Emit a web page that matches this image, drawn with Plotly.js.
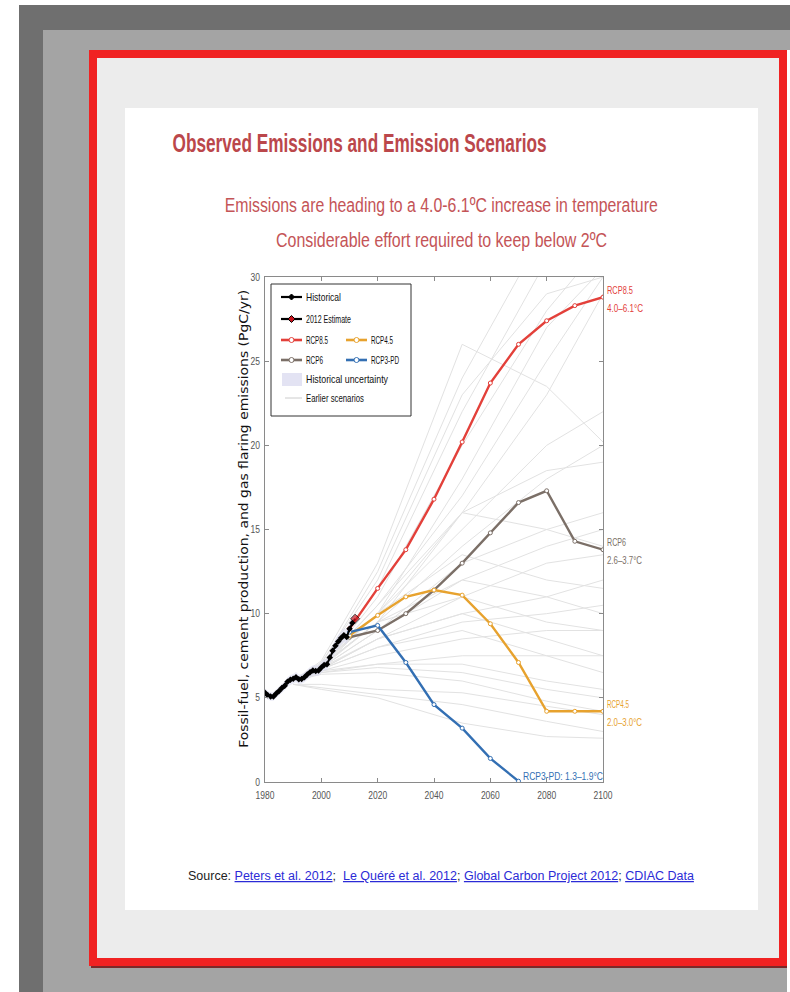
<!DOCTYPE html>
<html>
<head>
<meta charset="utf-8">
<script src="https://cdn.plot.ly/plotly-3.0.1.min.js"></script>
<style>
  html, body { margin: 0; padding: 0; background: #ffffff; }
  #chart { width: 790px; height: 992px; }
</style>
</head>
<body>
<div id="chart"></div>
<script>
// ---------------- DATA ----------------
const HIST_YEARS = [1980,1981,1982,1983,1984,1985,1986,1987,1988,1989,1990,1991,1992,1993,1994,1995,1996,1997,1998,1999,2000,2001,2002,2003,2004,2005,2006,2007,2008,2009,2010,2011];
const HIST_VALUES = [5.30,5.15,5.08,5.08,5.25,5.40,5.58,5.72,5.95,6.07,6.13,6.23,6.10,6.12,6.22,6.38,6.52,6.62,6.60,6.62,6.80,6.95,7.00,7.40,7.80,8.10,8.35,8.55,8.72,8.62,9.10,9.45];
const HIST_UNC = [0.25,0.25,0.25,0.25,0.26,0.26,0.27,0.27,0.28,0.29,0.29,0.30,0.29,0.29,0.30,0.30,0.31,0.31,0.31,0.31,0.32,0.33,0.33,0.35,0.37,0.38,0.40,0.41,0.42,0.42,0.44,0.46];

const EST_YEARS = [2011, 2012];
const EST_VALUES = [9.45, 9.70];

const RCP_YEARS = [2010,2020,2030,2040,2050,2060,2070,2080,2090,2100];
const RCP85 = [9.1, 11.5, 13.8, 16.8, 20.2, 23.7, 26.0, 27.4, 28.3, 28.8];
const RCP6  = [8.6,  9.0, 10.0, 11.4, 13.0, 14.8, 16.6, 17.3, 14.3, 13.8];
const RCP45 = [8.7,  9.9, 11.0, 11.4, 11.1,  9.4,  7.1,  4.2,  4.2,  4.2];
const RCP3PD_YEARS = [2010,2020,2030,2040,2050,2060,2070];
const RCP3PD = [8.9, 9.3, 7.1, 4.6, 3.2, 1.4, 0.05];

const ES_YEARS = [1990, 2000, 2020, 2050, 2080, 2100];
const ES_01 = [6.0, 6.9, 11.5, 22.0, 31.0, 36.0];
const ES_02 = [6.0, 7.0, 12.5, 24.0, 33.0, 37.0];
const ES_03 = [6.0, 6.8, 11.0, 20.0, 28.0, 32.0];
const ES_04 = [6.0, 7.2, 13.0, 26.0, 23.5, 20.2];
const ES_05 = [6.0, 6.9, 10.5, 17.0, 25.0, 30.0];
const ES_06 = [6.0, 7.0, 10.0, 16.0, 23.0, 29.0];
const ES_07 = [6.0, 6.8, 10.0, 18.0, 27.0, 30.5];
const ES_08 = [6.0, 7.1, 12.0, 23.0, 29.0, 30.0];
const ES_09 = [6.0, 6.9, 10.0, 15.0, 20.0, 22.0];
const ES_10 = [6.0, 6.8,  9.5, 14.0, 18.0, 20.0];
const ES_11 = [6.0, 6.9,  9.5, 16.0, 18.5, 19.0];
const ES_12 = [6.0, 7.0, 10.5, 16.0, 15.0, 14.0];
const ES_13 = [6.0, 6.8,  9.0, 13.0, 15.0, 16.0];
const ES_14 = [6.0, 6.9,  9.5, 12.0, 14.0, 15.0];
const ES_15 = [6.0, 6.7,  8.5, 11.0, 13.0, 13.5];
const ES_16 = [6.0, 7.0, 10.0, 13.5, 12.0, 11.5];
const ES_17 = [6.0, 6.8,  9.0, 12.0, 11.0, 10.0];
const ES_18 = [6.0, 6.7,  8.5, 10.0, 11.0, 12.0];
const ES_19 = [6.0, 6.9,  9.5, 11.0,  9.5,  9.0];
const ES_20 = [6.0, 6.7,  8.0,  9.5, 10.0, 10.5];
const ES_21 = [6.0, 6.8,  8.5, 10.0,  8.5,  7.5];
const ES_22 = [6.0, 6.6,  7.5,  8.5,  9.0,  9.0];
const ES_23 = [6.0, 6.7,  8.0,  9.0,  7.5,  6.5];
const ES_24 = [6.0, 6.6,  7.0,  7.5,  7.5,  7.5];
const ES_25 = [6.0, 6.5,  7.0,  7.0,  6.0,  5.5];
const ES_26 = [6.0, 6.5,  6.8,  6.5,  5.5,  5.0];
const ES_27 = [5.8, 5.6,  5.2,  4.6,  3.6,  3.0];
const ES_28 = [5.8, 5.8,  5.5,  5.3,  4.5,  4.0];
const ES_29 = [5.8, 5.5,  5.0,  3.5,  2.7,  2.6];
const ES_30 = [6.0, 6.4,  6.5,  6.0,  4.8,  4.2];
const EARLIER = [ES_01,ES_02,ES_03,ES_04,ES_05,ES_06,ES_07,ES_08,ES_09,ES_10,ES_11,ES_12,ES_13,ES_14,ES_15,ES_16,ES_17,ES_18,ES_19,ES_20,ES_21,ES_22,ES_23,ES_24,ES_25,ES_26,ES_27,ES_28,ES_29,ES_30];

const X_TICKS = [1980, 2000, 2020, 2040, 2060, 2080, 2100];
const Y_TICKS = [0, 5, 10, 15, 20, 25, 30];

// ---------------- STYLE ----------------
const W = 790, H = 992;
const px = x => x / W;
const py = y => 1 - y / H;
const C_RED = '#e3403a', C_BROWN = '#7b6f67', C_ORANGE = '#e7a22e', C_BLUE = '#336fb3';
const SANS = '"Liberation Sans", Arial, sans-serif';

const traces = [];
EARLIER.forEach(s => traces.push({
  x: ES_YEARS, y: s, type: 'scatter', mode: 'lines',
  line: {color: '#e2e2e2', width: 1}, hoverinfo: 'skip', showlegend: false
}));
traces.push({x: HIST_YEARS, y: HIST_VALUES.map((v,i)=>v-HIST_UNC[i]), type:'scatter', mode:'lines',
  line:{width:0, color:'rgba(0,0,0,0)'}, showlegend:false, hoverinfo:'skip'});
traces.push({x: HIST_YEARS, y: HIST_VALUES.map((v,i)=>v+HIST_UNC[i]), type:'scatter', mode:'lines',
  fill:'tonexty', fillcolor:'rgba(222,222,242,0.6)', line:{width:0, color:'rgba(0,0,0,0)'}, showlegend:false, hoverinfo:'skip'});

function rcp(xs, ys, color) {
  return {x: xs, y: ys, type: 'scatter', mode: 'lines+markers',
    line: {color: color, width: 2.4},
    marker: {symbol: 'circle', size: 4, color: '#ffffff', line: {color: color, width: 1}},
    showlegend: false};
}
traces.push(rcp(RCP_YEARS, RCP6, C_BROWN));
traces.push(rcp(RCP_YEARS, RCP45, C_ORANGE));
traces.push(rcp(RCP3PD_YEARS, RCP3PD, C_BLUE));
traces.push(rcp(RCP_YEARS, RCP85, C_RED));

traces.push({x: HIST_YEARS, y: HIST_VALUES, type: 'scatter', mode: 'lines+markers',
  line: {color: '#000000', width: 2}, marker: {symbol: 'diamond', size: 5, color: '#000000'}, showlegend: false});
traces.push({x: EST_YEARS, y: EST_VALUES, type: 'scatter', mode: 'lines+markers',
  line: {color: '#000000', width: 2},
  marker: {symbol: 'diamond', size: [0, 7], color: '#c8141e', line: {color: '#000', width: 1}}, showlegend: false});

// ---------------- FRAME SHAPES ----------------
const shapes = [
  {type:'rect', xref:'paper', yref:'paper', x0:px(19), x1:px(790), y0:py(992), y1:py(5), fillcolor:'#6f6f6f', line:{width:0}, layer:'below'},
  {type:'rect', xref:'paper', yref:'paper', x0:px(43), x1:px(790), y0:py(992), y1:py(30), fillcolor:'#a4a4a4', line:{width:0}, layer:'below'},
  {type:'rect', xref:'paper', yref:'paper', x0:px(787), x1:px(790), y0:py(992), y1:py(50), fillcolor:'#ffffff', line:{width:0}, layer:'below'},
  {type:'rect', xref:'paper', yref:'paper', x0:px(91), x1:px(787), y0:py(968), y1:py(52), fillcolor:'#7a2a2a', line:{width:0}, layer:'below'},
  {type:'rect', xref:'paper', yref:'paper', x0:px(93), x1:px(783), y0:py(962), y1:py(54), fillcolor:'#ececec', line:{color:'#f02222', width:8}, layer:'below'},
  {type:'rect', xref:'paper', yref:'paper', x0:px(125), x1:px(758), y0:py(910), y1:py(108), fillcolor:'#ffffff', line:{width:0}, layer:'below'},
];

// ---------------- LEGEND (drawn) ----------------
const LG = {x0:271, y0:284, x1:411, y1:416};
shapes.push({type:'rect', xref:'paper', yref:'paper', x0:px(LG.x0), x1:px(LG.x1), y0:py(LG.y1), y1:py(LG.y0),
  fillcolor:'#ffffff', line:{color:'#333333', width:1}, layer:'above'});
function lgLine(xa, xb, y, color, width) {
  shapes.push({type:'line', xref:'paper', yref:'paper', x0:px(xa), x1:px(xb), y0:py(y), y1:py(y), line:{color:color, width:width}, layer:'above'});
}
function lgCircle(cx, cy, r, color) {
  shapes.push({type:'circle', xref:'paper', yref:'paper', x0:px(cx-r), x1:px(cx+r), y0:py(cy+r), y1:py(cy-r),
    fillcolor:'#ffffff', line:{color:color, width:1}, layer:'above'});
}
function lgDiamond(cx, cy, r, fill) {
  const p = `M${px(cx)},${py(cy-r)} L${px(cx+r)},${py(cy)} L${px(cx)},${py(cy+r)} L${px(cx-r)},${py(cy)} Z`;
  shapes.push({type:'path', xref:'paper', yref:'paper', path:p, fillcolor:fill, line:{color:'#000', width:1}, layer:'above'});
}
const rows = [297, 319, 340, 360, 379, 398];
lgLine(281, 302, rows[0], '#000', 2.2); lgDiamond(291.5, rows[0], 3, '#000');
lgLine(281, 302, rows[1], '#000', 2.2); lgDiamond(291.5, rows[1], 3.5, '#c8141e');
lgLine(281, 302, rows[2], C_RED, 2.6); lgCircle(291.5, rows[2], 2.5, C_RED);
lgLine(346, 367, rows[2], C_ORANGE, 2.6); lgCircle(356.5, rows[2], 2.5, C_ORANGE);
lgLine(281, 302, rows[3], C_BROWN, 2.6); lgCircle(291.5, rows[3], 2.5, C_BROWN);
lgLine(346, 367, rows[3], C_BLUE, 2.6); lgCircle(356.5, rows[3], 2.5, C_BLUE);
shapes.push({type:'rect', xref:'paper', yref:'paper', x0:px(282), x1:px(302), y0:py(386), y1:py(373), fillcolor:'#e3e3f3', line:{width:0}, layer:'above'});
lgLine(285, 302, rows[5], '#cccccc', 1);

// ---------------- TEXTS ----------------
const annotations = [];
const targetWidths = [];   // desired rendered width (px) per annotation, for horizontal condensing
function txt(text, x, y, tw, opts) {
  const center = opts && opts.center;
  const a = {text:text, xref:'paper', yref:'paper', x:px(x), y:py(y), showarrow:false,
    xanchor: center ? 'center' : 'left', align: center ? 'center' : 'left', yanchor:'middle', borderpad:0,
    font:{family:SANS, size:11, color:'#111'}};
  if (opts && opts.font) a.font = opts.font;
  if (opts && opts.textangle !== undefined) a.textangle = opts.textangle;
  annotations.push(a);
  targetWidths.push(tw);
}
txt('Historical', 305, rows[0], 35);
txt('2012 Estimate', 305, rows[1], 45);
txt('RCP8.5', 305, rows[2], 22);
txt('RCP4.5', 370, rows[2], 22);
txt('RCP6', 305, rows[3], 17);
txt('RCP3-PD', 370, rows[3], 28);
txt('Historical uncertainty', 305, rows[4], 82);
txt('Earlier scenarios', 305, rows[5], 58);

const lab = c => ({family:SANS, size:11, color:c});
txt('RCP8.5', 606, 290, 26, {font:lab(C_RED)});
txt('4.0–6.1°C', 606, 308, 36, {font:lab(C_RED)});
txt('RCP6', 606, 542, 19, {font:lab(C_BROWN)});
txt('2.6–3.7°C', 606, 560, 35, {font:lab(C_BROWN)});
txt('RCP4.5', 606, 704, 22, {font:lab(C_ORANGE)});
txt('2.0–3.0°C', 606, 722, 35, {font:lab(C_ORANGE)});
txt('RCP3-PD: 1.3–1.9°C', 522, 776, 80, {font:lab(C_BLUE)});

txt('Fossil-fuel, cement production, and gas flaring emissions (PgC/yr)', 244, 519, 458,
  {center:true, textangle:-90, font:{family:'"DejaVu Sans", Verdana, sans-serif', size:12, color:'#111'}});

txt('Observed Emissions and Emission Scenarios', 359, 143, 374,
  {center:true, font:{family:SANS, size:26, color:'#bb474b', weight:'bold'}});
txt('Emissions are heading to a 4.0-6.1ºC increase in temperature', 441, 205, 433,
  {center:true, font:{family:SANS, size:20, color:'#c45457'}});
txt('Considerable effort required to keep below 2ºC', 441, 240, 331,
  {center:true, font:{family:SANS, size:20, color:'#c45457'}});

// source line (natural width, no condensing)
const LINK = s => `<span style="color:#2b2bd6;text-decoration:underline">${s}</span>`;
txt('Source: ' + LINK('Peters et al. 2012') + ';  ' + LINK('Le Quéré et al. 2012') + '; ' +
    LINK('Global Carbon Project 2012') + '; ' + LINK('CDIAC Data'),
  441, 876, 0, {center:true, font:{family:SANS, size:12.5, color:'#222'}});

const axisCommon = {
  showgrid:false, zeroline:false, showline:true, linecolor:'#8a8a8a', linewidth:1, mirror:'ticks',
  ticks:'inside', ticklen:4, tickcolor:'#8a8a8a',
  tickfont:{family:SANS, size:10, color:'#555'}
};
const layout = {
  width: W, height: H,
  margin: {l:0, r:0, t:0, b:0},
  paper_bgcolor:'#ffffff', plot_bgcolor:'#ffffff',
  showlegend:false,
  xaxis: Object.assign({}, axisCommon, {domain:[px(265), px(603)], range:[1980, 2100], tickvals:X_TICKS, ticktext:X_TICKS.map(String), ticklabelstandoff:4}),
  yaxis: Object.assign({}, axisCommon, {domain:[py(782), py(277)], range:[0, 30], tickvals:Y_TICKS, ticktext:Y_TICKS.map(String), ticklabelstandoff:2}),
  shapes: shapes,
  annotations: annotations
};
Plotly.newPlot('chart', traces, layout, {staticPlot:true}).then(gd => {
  // condense texts horizontally to match the narrow typeface of the original
  gd.querySelectorAll('g.annotation').forEach(g => {
    const i = +g.getAttribute('data-index');
    const t = g.querySelector('text.annotation-text');
    if (t && targetWidths[i]) {
      t.setAttribute('textLength', targetWidths[i]);
      t.setAttribute('lengthAdjust', 'spacingAndGlyphs');
    }
  });
  gd.querySelectorAll('.xtick text, .ytick text').forEach(t => {
    const w = t.getComputedTextLength();
    t.setAttribute('textLength', (w * 0.85).toFixed(2));
    t.setAttribute('lengthAdjust', 'spacingAndGlyphs');
  });
});
</script>
</body>
</html>
